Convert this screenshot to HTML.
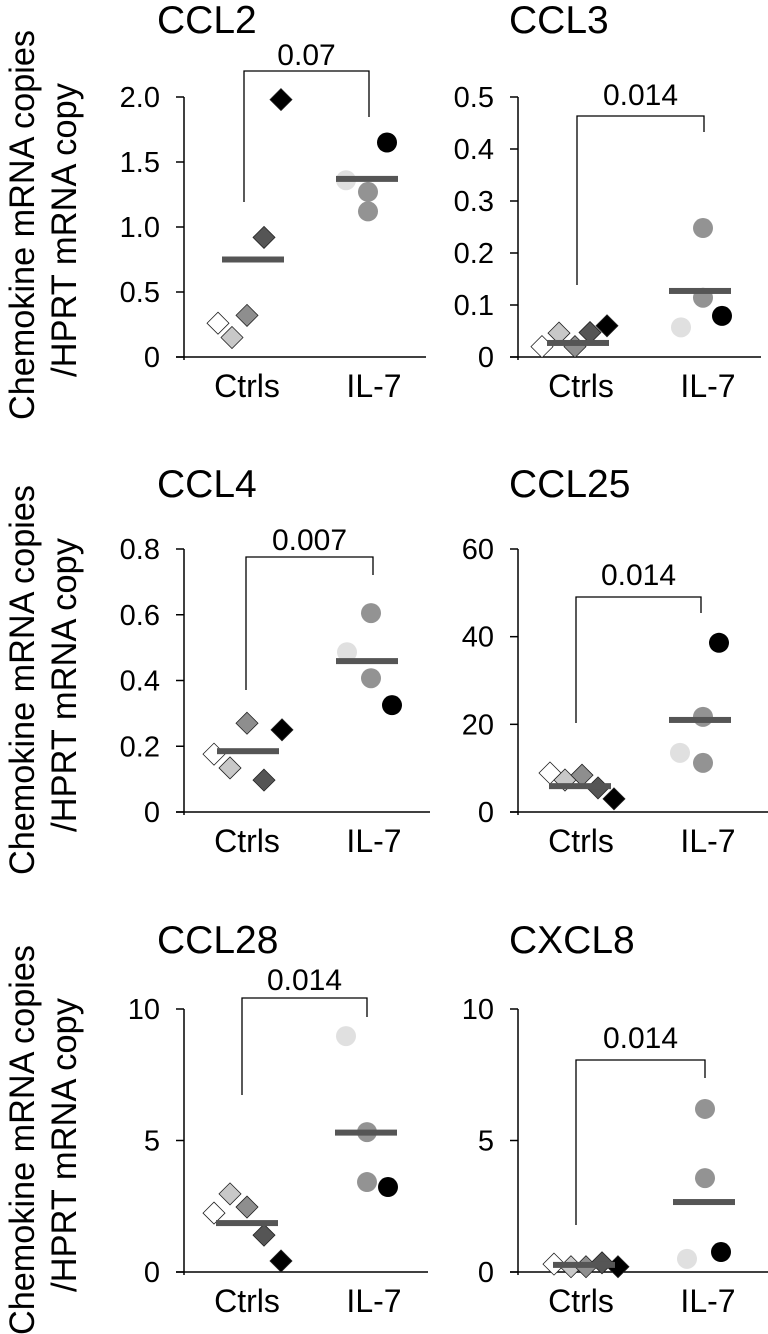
<!DOCTYPE html>
<html><head><meta charset="utf-8"><style>
html,body{margin:0;padding:0;background:#fff}
svg{display:block}
text{font-family:"Liberation Sans",Arial,sans-serif;fill:#000}
</style></head><body>
<svg id="chart" width="768" height="1334" viewBox="0 0 768 1334" xmlns="http://www.w3.org/2000/svg">
<g>
<text font-size="35" text-anchor="middle" textLength="390" lengthAdjust="spacingAndGlyphs" transform="translate(34,225) rotate(-90)">Chemokine mRNA copies</text>
<text font-size="35" text-anchor="middle" textLength="294" lengthAdjust="spacingAndGlyphs" transform="translate(76,230) rotate(-90)">/HPRT mRNA copy</text></g>
<g>
<text font-size="35" text-anchor="middle" textLength="390" lengthAdjust="spacingAndGlyphs" transform="translate(34,680) rotate(-90)">Chemokine mRNA copies</text>
<text font-size="35" text-anchor="middle" textLength="294" lengthAdjust="spacingAndGlyphs" transform="translate(76,685) rotate(-90)">/HPRT mRNA copy</text></g>
<g>
<text font-size="35" text-anchor="middle" textLength="390" lengthAdjust="spacingAndGlyphs" transform="translate(34,1140) rotate(-90)">Chemokine mRNA copies</text>
<text font-size="35" text-anchor="middle" textLength="294" lengthAdjust="spacingAndGlyphs" transform="translate(76,1145) rotate(-90)">/HPRT mRNA copy</text></g>
</svg>
<script>
// ---- data ----
const categories = ["Ctrls", "IL-7"];
const panelNames = ["CCL2", "CCL3", "CCL4", "CCL25", "CCL28", "CXCL8"];
const pValues = ["0.07", "0.014", "0.007", "0.014", "0.014", "0.014"];
const yMaxes = [2.0, 0.5, 0.8, 60, 10, 10];
const tickLabelsCCL2 = ["0", "0.5", "1.0", "1.5", "2.0"];
const tickLabelsCCL3 = ["0", "0.1", "0.2", "0.3", "0.4", "0.5"];
const tickLabelsCCL4 = ["0", "0.2", "0.4", "0.6", "0.8"];
const tickLabelsCCL25 = ["0", "20", "40", "60"];
const tickLabelsCCL28 = ["0", "5", "10"];
const tickLabelsCXCL8 = ["0", "5", "10"];
const ctrlsCCL2 = [0.26, 0.15, 0.32, 0.92, 1.98];
const il7CCL2 = [1.36, 1.27, 1.12, 1.65];
const meansCCL2 = [0.75, 1.37];
const ctrlsCCL3 = [0.02, 0.046, 0.02, 0.047, 0.06];
const il7CCL3 = [0.057, 0.248, 0.114, 0.079];
const meansCCL3 = [0.027, 0.127];
const ctrlsCCL4 = [0.176, 0.134, 0.27, 0.097, 0.25];
const il7CCL4 = [0.486, 0.605, 0.407, 0.325];
const meansCCL4 = [0.185, 0.459];
const ctrlsCCL25 = [8.9, 7.3, 8.4, 5.5, 3.0];
const il7CCL25 = [13.5, 21.7, 11.2, 38.6];
const meansCCL25 = [5.9, 21.0];
const ctrlsCCL28 = [2.24, 2.97, 2.47, 1.4, 0.42];
const il7CCL28 = [8.97, 5.32, 3.42, 3.23];
const meansCCL28 = [1.86, 5.3];
const ctrlsCXCL8 = [0.3, 0.2, 0.2, 0.35, 0.2];
const il7CXCL8 = [0.5, 6.2, 3.57, 0.76];
const meansCXCL8 = [0.27, 2.66];

const tickSets = [tickLabelsCCL2, tickLabelsCCL3, tickLabelsCCL4, tickLabelsCCL25, tickLabelsCCL28, tickLabelsCXCL8];
const ctrlSets = [ctrlsCCL2, ctrlsCCL3, ctrlsCCL4, ctrlsCCL25, ctrlsCCL28, ctrlsCXCL8];
const il7Sets = [il7CCL2, il7CCL3, il7CCL4, il7CCL25, il7CCL28, il7CXCL8];
const meanSets = [meansCCL2, meansCCL3, meansCCL4, meansCCL25, meansCCL28, meansCXCL8];

// ---- layout (pixels, relative jitter) ----
const layout = [
 {ax:184, y0:357, yTop:97, axEnd:426, titleX:157, titleY:33, bx:[60,185], br:[71,202,117], pY:65,
  dOff:[34,48,63,80,97], cOff:[162,184,184,203], mOff:[69,183]},
 {ax:518, y0:357, yTop:97, axEnd:761, titleX:509, titleY:33, bx:[59,186], br:[116,285,132], pY:105,
  dOff:[24,41,57,72,89], cOff:[163,185,185,204], mOff:[60,182]},
 {ax:184, y0:812, yTop:549, axEnd:430, titleX:157, titleY:497, bx:[62,189], br:[557,690,575], pY:550,
  dOff:[30,46,63,80,98], cOff:[163,187,187,208], mOff:[64,183]},
 {ax:518, y0:812, yTop:549, axEnd:768, titleX:509, titleY:497, bx:[58,183], br:[597,723,613], pY:585,
  dOff:[32,47,64,80,96], cOff:[162,185,185,201], mOff:[62,182]},
 {ax:184, y0:1272, yTop:1009, axEnd:428, titleX:157, titleY:953, bx:[58,183], br:[998,1095,1017], pY:990,
  dOff:[30,46,63,80,97], cOff:[162,183,183,204], mOff:[63,182]},
 {ax:518, y0:1272, yTop:1009, axEnd:768, titleX:509, titleY:953, bx:[58,187], br:[1060,1225,1078], pY:1048,
  dOff:[36,53,68,84,100], cOff:[169,187,187,203], mOff:[66,186]}
];
const diamondFills = ["#ffffff", "#c8c8c8", "#8e8e8e", "#555555", "#000000"];
const circleFills = ["#e0e0e0", "#939393", "#939393", "#000000"];

const NS = "http://www.w3.org/2000/svg";
const svg = document.getElementById("chart");
function mk(tag, attrs, parent) {
  const e = document.createElementNS(NS, tag);
  for (const k in attrs) e.setAttribute(k, attrs[k]);
  parent.appendChild(e);
  return e;
}

panelNames.forEach((name, i) => {
  const L = layout[i];
  const yScale = v => L.y0 - (v / yMaxes[i]) * (L.y0 - L.yTop);
  const c1 = L.ax + 63, c2 = L.ax + 190;
  const g = mk("g", {}, svg);
  
  

  const t = mk("text", {x: L.titleX, y: L.titleY, "font-size": 39}, g);
  t.textContent = name;
  
  

  const ya = mk("line", {x1: L.ax, y1: L.yTop, x2: L.ax, y2: L.y0 + 3, stroke: "#000", "stroke-width": 1.5}, g);
  
  
  const xa = mk("line", {x1: L.ax - 8, y1: L.y0, x2: L.axEnd, y2: L.y0, stroke: "#000", "stroke-width": 1.5}, g);
  
  

  tickSets[i].forEach(lbl => {
    const y = yScale(parseFloat(lbl));
    const tk = mk("line", {x1: L.ax - 8, y1: y, x2: L.ax, y2: y, stroke: "#000", "stroke-width": 1.5}, g);
    
    
    const tl = mk("text", {x: L.ax - 24, y: y + 10, "font-size": 29, "text-anchor": "end"}, g);
    tl.textContent = lbl;
    
    
  });

  [c1, c2].forEach((cx, k) => {
    const cl = mk("text", {x: cx, y: L.y0 + 40, "font-size": 32, "text-anchor": "middle"}, g);
    cl.textContent = categories[k];
    
    
  });

  const bx1 = L.ax + L.bx[0], bx2 = L.ax + L.bx[1];
  const br = mk("polyline", {points: `${bx1},${L.br[1]} ${bx1},${L.br[0]} ${bx2},${L.br[0]} ${bx2},${L.br[2]}`, fill: "none", stroke: "#000", "stroke-width": 1.3}, g);
  
  
  const pv = mk("text", {x: (bx1 + bx2) / 2, y: L.pY, "font-size": 30, "text-anchor": "middle"}, g);
  pv.textContent = pValues[i];
  
  

  ctrlSets[i].forEach((v, j) => {
    const x = L.ax + L.dOff[j], y = yScale(v), r = 11;
    const d = mk("polygon", {points: `${x},${y - r} ${x + r},${y} ${x},${y + r} ${x - r},${y}`, fill: diamondFills[j], stroke: "#222", "stroke-width": 0.8}, g);
    
    
  });
  il7Sets[i].forEach((v, j) => {
    const c = mk("circle", {cx: L.ax + L.cOff[j], cy: yScale(v), r: 10, fill: circleFills[j]}, g);
    
    
  });
  meanSets[i].forEach((v, k) => {
    const cx = L.ax + L.mOff[k];
    const m = mk("rect", {x: cx - 31, y: yScale(v) - 3, width: 62, height: 6, fill: "#555"}, g);
    
    
  });
});
</script>
</body></html>
